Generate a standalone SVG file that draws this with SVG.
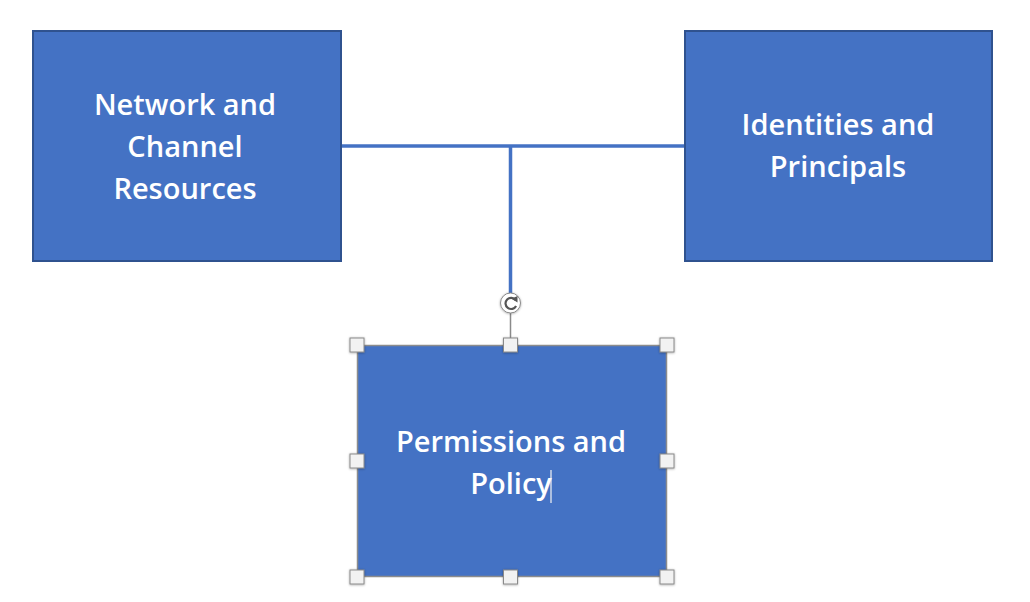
<svg xmlns="http://www.w3.org/2000/svg" width="1030" height="602" viewBox="0 0 1030 602">
  <defs>
    <style>
      .box { fill: #4472C4; stroke: #2F528F; stroke-width: 2; }
      .sel { fill: #4472C4; stroke: #8C8C8C; stroke-width: 1.5; }
      .lbl { font-family: "Open Sans", "Liberation Sans", sans-serif; font-size: 29px; font-weight: 600; fill: #FFFFFF; text-anchor: middle; }
      .conn { stroke: #4472C4; stroke-width: 3.5; fill: none; }
      .handle { fill: #F2F2F2; stroke: #8A8A8A; stroke-width: 1; }
    </style>
    <filter id="sh" x="-50%" y="-50%" width="200%" height="200%">
      <feDropShadow dx="0" dy="0.5" stdDeviation="1" flood-color="#000" flood-opacity="0.35"/>
    </filter>
  </defs>
  <rect width="1030" height="602" fill="#FFFFFF"/>

  <g id="connectors">
    <line class="conn" x1="341" y1="146" x2="685" y2="146"/>
    <line class="conn" x1="510.5" y1="146" x2="510.5" y2="293"/>
  </g>

  <g id="node-network">
    <rect class="box" x="33" y="31" width="308" height="230"/>
    <text class="lbl" x="185" y="115">Network and</text>
    <text class="lbl" x="185" y="157">Channel</text>
    <text class="lbl" x="185" y="199">Resources</text>
  </g>

  <g id="node-identities">
    <rect class="box" x="685" y="31" width="307" height="230"/>
    <text class="lbl" x="838" y="135">Identities and</text>
    <text class="lbl" x="838" y="177">Principals</text>
  </g>

  <g id="node-permissions">
    <rect class="sel" x="357.5" y="345.5" width="309" height="231"/>
    <text class="lbl" x="511" y="452">Permissions and</text>
    <text class="lbl" x="511" y="494">Policy</text>
    <line x1="551" y1="470" x2="551" y2="503" stroke="#F4F4F4" stroke-width="1.2"/>
  </g>

  <g id="selection-handles">
    <line x1="510.5" y1="313" x2="510.5" y2="339" stroke="#8A8A8A" stroke-width="1.5"/>
    <g filter="url(#sh)">
      <circle cx="510.5" cy="303" r="10" fill="#FFFFFF" stroke="#8A8A8A" stroke-width="1"/>
    </g>
    <path d="M515.6 300 A5.6 5.6 0 1 0 516.1 306" fill="none" stroke="#555" stroke-width="2.2"/>
    <path d="M511.5 298.8 L517.5 296 L517.5 302.5 Z" fill="#555"/>
    <g filter="url(#sh)">
      <rect class="handle" x="350" y="338" width="14" height="14"/>
      <rect class="handle" x="503.5" y="338" width="14" height="14"/>
      <rect class="handle" x="660" y="338" width="14" height="14"/>
      <rect class="handle" x="350" y="454" width="14" height="14"/>
      <rect class="handle" x="660" y="454" width="14" height="14"/>
      <rect class="handle" x="350" y="570" width="14" height="14"/>
      <rect class="handle" x="503.5" y="570" width="14" height="14"/>
      <rect class="handle" x="660" y="570" width="14" height="14"/>
    </g>
  </g>
</svg>
